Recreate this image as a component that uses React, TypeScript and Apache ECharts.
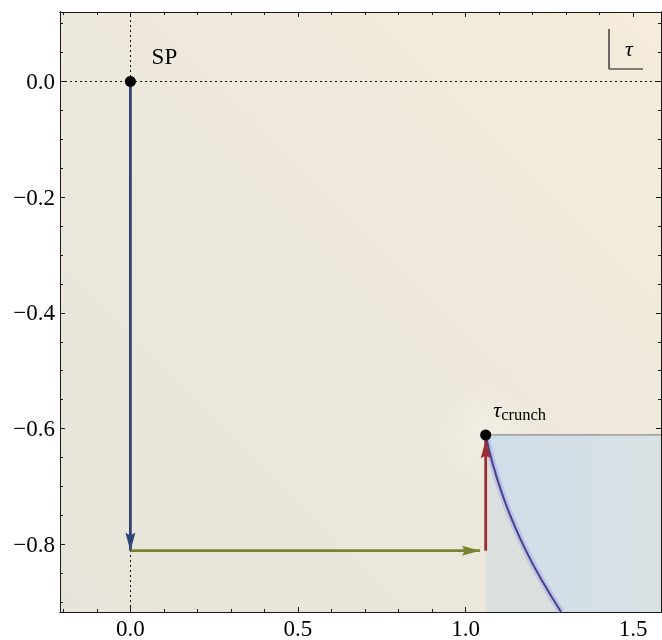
import React, { useEffect, useRef } from "react";
import * as echarts from "echarts";

const X_MIN = -0.21;
const X_MAX = 1.583;
const Y_MIN = -0.917;
const Y_MAX = 0.12;

const X_MAJOR = [0, 0.5, 1.0, 1.5];
const X_MINOR = [-0.2, -0.1, 0, 0.1, 0.2, 0.3, 0.4, 0.5, 0.6, 0.7, 0.8, 0.9, 1.0, 1.1, 1.2, 1.3, 1.4, 1.5];
const Y_MAJOR = [0, -0.2, -0.4, -0.6, -0.8];
const Y_MINOR = [0.1, 0.05, 0, -0.05, -0.1, -0.15, -0.2, -0.25, -0.3, -0.35, -0.4, -0.45, -0.5, -0.55, -0.6, -0.65, -0.7, -0.75, -0.8, -0.85, -0.9];

const SP = [0, 0];
const CRUNCH = [1.06, -0.611];
const BLUE_ARROW = [[0, 0], [0, -0.811]];
const GREEN_ARROW = [[0, -0.811], [1.043, -0.811]];
const RED_ARROW = [[1.06, -0.811], [1.06, -0.62]];
const CURVE = [
  [1.06, -0.611],
  [1.081, -0.661],
  [1.108, -0.711],
  [1.141, -0.761],
  [1.18, -0.811],
  [1.226, -0.861],
  [1.285, -0.917],
];

const FONT = "'Liberation Serif', 'Times New Roman', serif";
const fmt = (v: number) => {
  const s = Math.abs(v).toFixed(1);
  return v < -1e-9 ? "\u2212" + s : s;
};

function xAxisDef(position: string, ticks: number[], len: number, labels: boolean) {
  return {
    type: "value",
    position,
    min: X_MIN,
    max: X_MAX,
    axisLine: { show: true, onZero: false, lineStyle: { color: "#1a1a1a", width: 1 } },
    axisTick: { show: true, inside: true, length: len, customValues: ticks, lineStyle: { color: "#1a1a1a", width: 1 } },
    axisLabel: {
      show: labels,
      customValues: ticks,
      formatter: (v: number) => fmt(v),
      fontFamily: FONT,
      fontSize: 23,
      color: "#000",
      margin: 5,
    },
    splitLine: { show: false },
  };
}
function yAxisDef(position: string, ticks: number[], len: number, labels: boolean) {
  return {
    type: "value",
    position,
    min: Y_MIN,
    max: Y_MAX,
    axisLine: { show: true, onZero: false, lineStyle: { color: "#1a1a1a", width: 1 } },
    axisTick: { show: true, inside: true, length: len, customValues: ticks, lineStyle: { color: "#1a1a1a", width: 1 } },
    axisLabel: {
      show: labels,
      customValues: ticks,
      formatter: (v: number) => fmt(v),
      fontFamily: FONT,
      fontSize: 23,
      color: "#000",
      margin: 5,
    },
    splitLine: { show: false },
  };
}

export default function App() {
  const ref = useRef<HTMLDivElement>(null);
  useEffect(() => {
    if (!ref.current) return;
    const chart = echarts.init(ref.current, null, { renderer: "svg" });
    const arrowLine = (data: number[][], color: string) => ({
      type: "line",
      data,
      symbol: "none",
      silent: true,
      lineStyle: { color, width: 2.8 },
      z: 5,
    });
    const arrowHead = (pt: number[], color: string, symbol: string, size: number[], offset: number[]) => ({
      type: "scatter",
      data: [pt],
      symbol,
      symbolSize: size,
      symbolOffset: offset,
      itemStyle: { color, opacity: 1 },
      silent: true,
      z: 6,
    });
    const option: any = {
      animation: false,
      grid: {
        left: 60,
        right: 1,
        top: 12,
        bottom: 25,
        show: true,
        borderWidth: 0,
        backgroundColor: new echarts.graphic.LinearGradient(0, 1, 1, 0, [
          { offset: 0, color: "#E6E4DA" },
          { offset: 0.5, color: "#EDE8DC" },
          { offset: 1, color: "#F5ECDA" },
        ]),
      },
      xAxis: [
        xAxisDef("bottom", X_MINOR, 3, false),
        xAxisDef("bottom", X_MAJOR, 5, true),
        xAxisDef("top", X_MINOR, 3, false),
        xAxisDef("top", X_MAJOR, 5, false),
      ],
      yAxis: [
        yAxisDef("left", Y_MINOR, 3, false),
        yAxisDef("left", Y_MAJOR, 5, true),
        yAxisDef("right", Y_MINOR, 3, false),
        yAxisDef("right", Y_MAJOR, 5, false),
      ],
      series: [
        {
          type: "scatter",
          data: [CRUNCH],
          symbol: "circle",
          symbolSize: 100,
          silent: true,
          z: 0,
          itemStyle: {
            color: new echarts.graphic.RadialGradient(0.5, 0.5, 0.5, [
              { offset: 0, color: "rgba(250,246,236,0.55)" },
              { offset: 1, color: "rgba(250,246,236,0)" },
            ]),
          },
        },
        {
          type: "custom",
          data: [CRUNCH],
          silent: true,
          z: 1,
          renderItem: (_p: any, api: any) => {
            const tl = api.coord([CRUNCH[0], CRUNCH[1]]);
            const tr = api.coord([X_MAX, CRUNCH[1]]);
            const br = api.coord([X_MAX, Y_MIN]);
            const bl = api.coord([CRUNCH[0], Y_MIN]);
            const pts = CURVE.map((p) => api.coord(p));
            return {
              type: "group",
              children: [
                { type: "polygon", shape: { points: [tl, tr, br, bl] }, style: { fill: "#DBDFDD" } },
                {
                  type: "polygon",
                  shape: { points: [...pts, br, tr, tl] },
                  style: {
                    fill: new echarts.graphic.LinearGradient(0, 0, 1, 0, [
                      { offset: 0, color: "#D0DDEA" },
                      { offset: 1, color: "#D9E1E3" },
                    ]),
                  },
                },
              ],
            };
          },
        },
        {
          type: "line",
          data: CURVE,
          smooth: true,
          symbol: "none",
          silent: true,
          lineStyle: { color: "rgba(140,150,225,0.35)", width: 7 },
          z: 2,
        },
        {
          type: "line",
          data: CURVE,
          smooth: true,
          symbol: "none",
          silent: true,
          lineStyle: { color: "#4B3F8E", width: 2 },
          z: 3,
        },
        {
          type: "line",
          data: [CRUNCH, [X_MAX, CRUNCH[1]]],
          symbol: "none",
          silent: true,
          lineStyle: { color: "#8E8E8E", width: 1.2 },
          z: 3,
          markLine: {
            silent: true,
            symbol: "none",
            label: { show: false },
            lineStyle: { color: "#111", width: 1, type: [2, 3] },
            data: [{ xAxis: SP[0] }, { yAxis: SP[1] }],
          },
        },
        arrowLine(BLUE_ARROW, "#2F4577"),
        arrowLine(GREEN_ARROW, "#778530"),
        arrowLine(RED_ARROW, "#9A2E2E"),
        arrowHead(BLUE_ARROW[1], "#2F4577", "path://M0,0 L5,3 L10,0 L5,20 Z", [10, 18], [0, -9]),
        arrowHead(GREEN_ARROW[1], "#778530", "path://M0,0 L20,5 L0,10 L3,5 Z", [18, 10], [-9, 0]),
        arrowHead(RED_ARROW[1], "#9A2E2E", "path://M5,0 L10,20 L5,17 L0,20 Z", [10, 18], [0, 9]),
        {
          type: "scatter",
          data: [SP, CRUNCH],
          symbol: "circle",
          symbolSize: 11,
          itemStyle: { color: "#000", opacity: 1 },
          silent: true,
          z: 8,
          label: {
            show: true,
            position: "inside",
            formatter: (p: any) => (p.dataIndex === 0 ? "{a|SP}" : "{t|\u03c4}{s|crunch}"),
            offset: [34, -25],
            rich: {
              a: { fontFamily: FONT, fontSize: 23, color: "#000" },
              t: { fontFamily: FONT, fontStyle: "italic", fontSize: 22, color: "#000", lineHeight: 24 },
              s: { fontFamily: FONT, fontSize: 16.5, color: "#000", padding: [9, 0, 0, 0] },
            },
          },
        },
      ],
      graphic: [
        { type: "line", shape: { x1: 609, y1: 29, x2: 609, y2: 69 }, style: { stroke: "#111", lineWidth: 1.2 }, z: 10 },
        { type: "line", shape: { x1: 609, y1: 69, x2: 643, y2: 69 }, style: { stroke: "#111", lineWidth: 1.2 }, z: 10 },
        {
          type: "text",
          x: 629,
          y: 48,
          style: {
            text: "\u03c4",
            font: "italic 22px 'Liberation Serif', serif",
            fill: "#000",
            align: "center",
            verticalAlign: "middle",
          },
          z: 10,
        },
      ],
    };
    chart.setOption(option);
    return () => chart.dispose();
  }, []);
  return <div ref={ref} style={{ position: "fixed", left: 0, top: 0, width: 662, height: 640 }} />;
}
